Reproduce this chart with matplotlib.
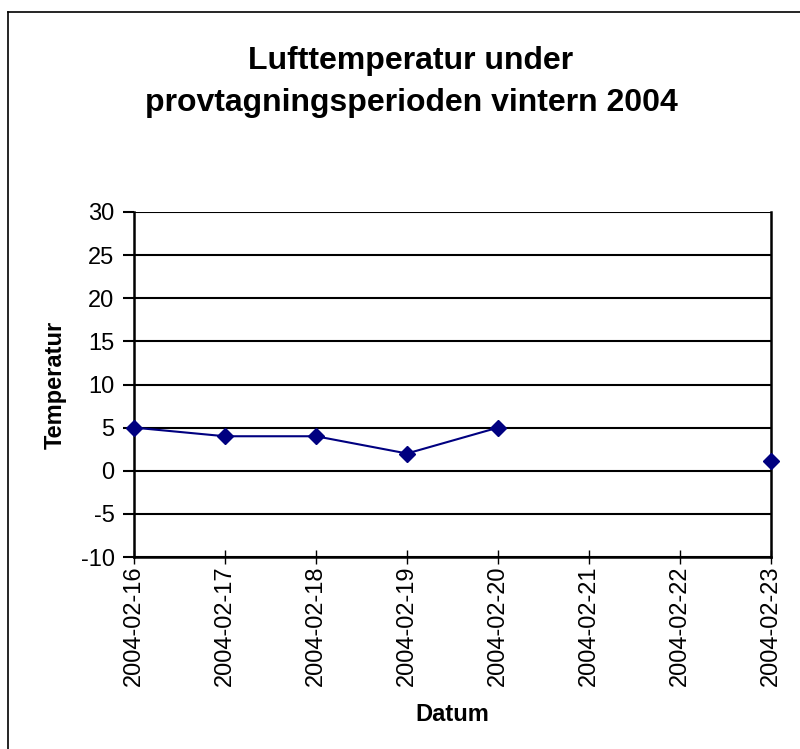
import matplotlib

matplotlib.use("Agg")
import matplotlib.pyplot as plt
import matplotlib.dates as mdates
from matplotlib.lines import Line2D
import numpy as np
import pandas as pd

DATES = ["2004-02-16", "2004-02-17", "2004-02-18", "2004-02-19",
         "2004-02-20", "2004-02-21", "2004-02-22", "2004-02-23"]
TEMPS = [5, 4, 4, 2, 5, np.nan, np.nan, 1.1]
Y_TICKS = [-10, -5, 0, 5, 10, 15, 20, 25, 30]

plt.rcParams.update({
    "font.family": ["Liberation Sans", "DejaVu Sans"],
    "font.size": 17,
    "axes.unicode_minus": False,
})

fig = plt.figure(figsize=(8.0, 7.49), dpi=100)
ax = fig.add_axes([134 / 800, 1 - 557 / 749, (771 - 134) / 800, (557 - 212) / 749])

x = pd.to_datetime(DATES)
ax.plot(x, TEMPS, color="#000080", linewidth=1.5, marker="D", markersize=8,
        clip_on=False, zorder=4)

ax.set_ylim(-10, 30)
ax.set_yticks(Y_TICKS)
ax.set_xlim(x[0], x[-1])
ax.set_xticks(x)
ax.xaxis.set_major_formatter(mdates.DateFormatter("%Y-%m-%d"))
ax.tick_params(axis="x", rotation=90, direction="inout", length=10, width=1, pad=1)
ax.tick_params(axis="y", direction="out", length=8, width=1.5, pad=6)
ax.grid(axis="y", color="black", linewidth=1.5)
for side in ["left", "right", "bottom"]:
    ax.spines[side].set_linewidth(1.8)
ax.spines["top"].set_visible(False)

ax.set_ylabel("Temperatur", fontweight="bold", fontsize=17, labelpad=10)
ax.set_xlabel("Datum", fontweight="bold", fontsize=17, labelpad=12)
fig.text(411 / 800, 1 - 82 / 749, "Lufttemperatur under\nprovtagningsperioden vintern 2004",
         ha="center", va="center", fontweight="bold", fontsize=23, linespacing=1.55)

# chart frame (left and top edges visible)
fig.add_artist(Line2D([8 / 800, 8 / 800], [0, 1 - 12 / 749], color="black", linewidth=1.2))
fig.add_artist(Line2D([8 / 800, 1], [1 - 12 / 749, 1 - 12 / 749], color="black", linewidth=1.2))

fig.savefig("out.png", dpi=100)
